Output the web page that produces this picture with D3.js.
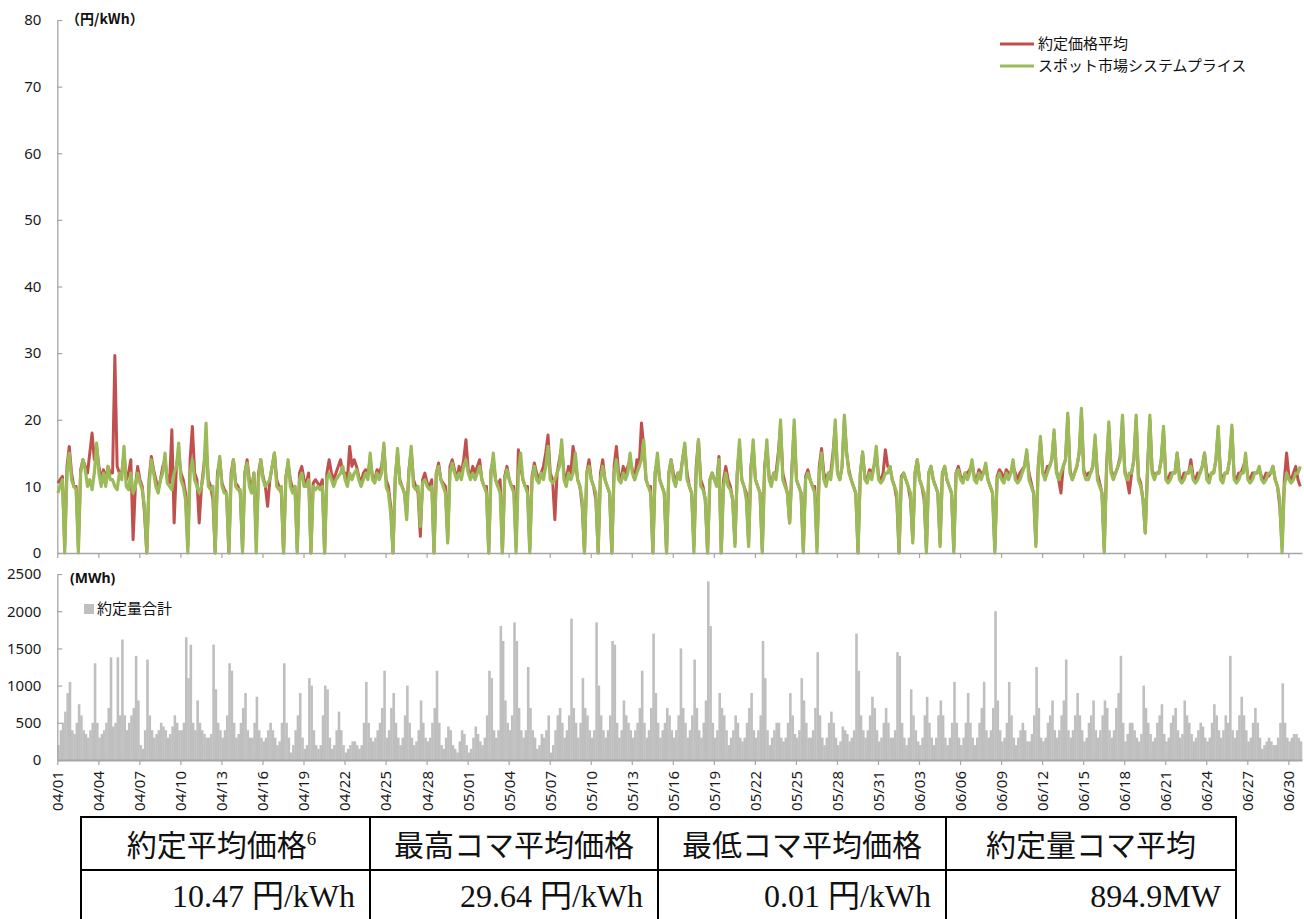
<!DOCTYPE html>
<html>
<head>
<meta charset="utf-8">
<script src="https://cdn.jsdelivr.net/npm/d3@7"></script>
<style>
  html, body { margin: 0; padding: 0; background: #fff; }
  svg { display: block; }
  .tick text { font-family: "Noto Sans", "Open Sans", sans-serif; }
</style>
</head>
<body>
<svg id="chart" width="1304" height="919"></svg>
<script>
// ---- DATA (6 values per day: 0h,4h,8h,12h,16h,20h) ----
const tickLabels = ["04/01","04/04","04/07","04/10","04/13","04/16","04/19","04/22","04/25","04/28",
  "05/01","05/04","05/07","05/10","05/13","05/16","05/19","05/22","05/25","05/28",
  "05/31","06/03","06/06","06/09","06/12","06/15","06/18","06/21","06/24","06/27","06/30"];
const dayCount = 91;
const perDay = 6;
const priceTicks = [0,10,20,30,40,50,60,70,80];
const volumeTicks = [0,500,1000,1500,2000,2500];
const seriesNames = ["約定価格平均", "スポット市場システムプライス"];
const volumeName = "約定量合計";

// スポット市場システムプライス (円/kWh)
const spotPrice = [
  9,10,11,0,12,15,   11,10,9.5,0,12,14,   12.5,10,11,9.5,12,16.5,   12,10,12,10,13,11,
  11,10,9.5,12,11,16,   10,9.5,12,9,10,12,   10.5,9.5,7,0,10,14,   12,10,9,11,12,15,
  10.5,10,9.5,12,13,16.5,   11,10,8,0,12,14,   11,10,9,10,12,19.5,   10,9.5,10,0,11,14.5,
  10,9,9,0,11,14,   10,9.5,9.5,0,12,13.5,   10,9,12,0,11,14,   11,10,10.5,11,13,15,
  10,9.5,10,0,11,14,   10,9,10,0,11,12,   10,10,11,0,10,9.5,   10,9.5,10,0,11,12,
  11,10,11,11.5,12,13,   11,10,12,11,12,12.5,   11,10,11,12,11,15,   11,10.5,12,11,12,16.5,
  10,9,6,0,11,15.7,   10.5,10,9,5,12,16,   10,9.5,10,4,10.5,11,   10,9.5,10,0,12,13,
  11,10,9,1.5,12,13.5,   12,11,12,11,13,14,   12,11,12,11,12,13,   11,10,9,0,12,15,
  11,10,9,0,11,12.5,   11,10,9,0,12,15,   11,10,9,0,11,13,   11,10.5,12,11,13,16,
  11,10.5,11,12,13,17,   11,10,12,11,12,15,   11,10,8,0,12,13,   11,10,9,0,11,13,
  11,10,9,0,12,14,   11,10.5,12,11,12,15,   12,11,12,13,14,17,   11,10,9,0,12,15,
  11,10,9,0,12,14,   11,10,12,11,14,16.5,   11,10,9,0,12,17,   10,9.5,8,0,11,12,
  11,10,14,0,10,12,   10,9.5,8,1,12,17,   11,10,8,1,12,17,   11,10,9,0,12,17,
  11,10,12,11,14,20,   11,10,9,4.5,12,20,   11,10,9,0,11,12,   11,10,9,0,12,15,
  11,10,12,11,14,20,   12,11,13,20.7,15,12,   11,10,9,0,12,15.2,   11,10.5,12,11,13,16,
  11,10.5,11,12,12,13,   11,10,9,0,11,12,   11,10,9,1.5,12,14,   11,10,9,0,12,13,
  11,10,9,1,12,13,   11,10,9,0,12,12.5,   11,10.5,12,11,12,14,   11,10.5,12,11,12,13.5,
  11,10,9,0,11,12,   11,10.5,12,11,12,14,   11,10.5,11,12,13,15.5,   11,10,9,1,12,17.5,
  12,11,12,13,14,18.5,   12,11,12,13,14,21,   12,11,12,13,15,21.7,   12,11,11,12,13,17.7,
  11,10,9,0,12,19.7,   12,11,12,13,14,20.7,   12,11,12,12,14,20.7,   11,10,8,3,12,20.7,
  12,11,12,12,14,19,   11,10.5,11,12,12,15,   11,10.5,11,12,12,13,   11,10.5,11,12,13,15,
  11,10.5,12,12,14,19,   11,10.5,12,12,14,19.2,   11,10.5,11,12,12,15,   11,10.5,11,12,12,13,
  11,10.5,11,12,12,13,   11,10,8,0,10,12,   11,10.5,11,12,12,13
];

// 約定価格平均 (円/kWh)
const contractPrice = [
  10.5,11,11.5,1,13,16,   12,10,10,1,12.5,14,   13,12,15,18,14,16,   13,11,12.5,11,13,12,
  12,29.64,13,12,12,15,   11,12,14,2,10,13,   11,10,6,0,11,14.5,   12.5,11,9.5,11,13,14,
  11,10.5,18.5,4.5,13,15,   12,11,9,1,14,19,   12,11,4.5,10,13,16,   11,10,8,0,12,14,
  10.5,9.5,9,0,12,14,   10.5,10,9,0.5,12,14,   11,9.5,12,2,12,14,   11.5,10,7,11,13,15,
  11,10,9,0,11.5,13.5,   11,9.5,10,0.5,12,13,   11,10.5,12,0,10.5,11,   10.5,10,11,0,12,14,
  12,11,12,13,14,12,   12,11,16,13,14,13,   11.5,10.5,12,12.5,12,14,   11.5,11,12.5,12,13,16,
  11,10,7,0,11.5,15,   11,10,9,6,12.5,15.5,   11,10,9,2.5,11,12,   10.5,10,11,0,12,13.5,
  11,10.5,10,2,13,14,   12.5,11,13,12,14,17,   12.5,11.5,13,12,13,14,   11,10,10,0,12.5,14,
  11,10,11,0,11.5,13,   11,10,10,1,15.5,13,   11,10,10,0.5,11.5,13.5,   12,11,12,13,15,17.7,
  12,11,5,12,14,16,   12,11,13,12,16,14,   11,10,7,0,12,14,   11,10,8,0,12,14,
  11,10,9,0,13,16,   12,11,13,12,13,14,   12.5,11,14,13,19.5,16,   11,10,10,0,12,14,
  11,10,9,0,12,14,   12,10.5,12,11.5,14,16,   12,10,9,1,13,17,   11,10,8,0,11,12,
  11,10.5,14.5,0,11,13,   11,10,8,1.5,12,16,   11,10,9,1.5,13,16,   11,10,9,0.5,13,16,
  11.5,10.5,12,12,15,19,   12,10.5,9,4.5,13,19,   11,10,9,0.5,11.5,12.5,   11,10,10,1,13,15.7,
  12,11,12,12,15,19,   12,11,13,20,15,12.5,   11,10,9,0,12,15,   11.5,11,12.5,12,13,15,
  11.5,11,12,15.5,13,13,   11,10,8,0,11.5,12,   11,10,8,2,12,14,   11,10,8,0.5,12,13,
  11,10,9,1.5,12,13,   11,10,9,0.5,12,13,   11.5,11,12,12,12.5,13.5,   11.5,11,12.5,12,12,13,
  11,10,9,0.5,11.5,12.5,   12,11,12.5,12,12,13,   12,11,12,12.5,13,15,   12,10.5,9,1.5,13,17,
  12.5,11,13,13,14,18,   12.5,11,9,13,14,20.5,   12.5,11,12,13,15,21,   12.5,11.5,12,12,13,17,
  12,10.5,9,0.5,13,19,   12.5,11.5,12,13,14.5,20,   12.5,11,9,12,14,20,   11.5,10.5,8,3,13,20,
  12.5,11.5,12,12,14,18.5,   11.5,11,12,12,12,15,   11.5,11,12,12,12,14,   11.5,11,12,12,13,15,
  12,11,12,12,14,18.5,   12,11,12,12,14,18.5,   11.5,11,12,12,13,14,   11.5,11,12,12,12,12.5,
  11.5,11,12,11.5,12,13,   11,10,7,1,11,15,   11.5,11,12,13,11,10
];

// 約定量合計 (MWh)
const volume = [
  200,400,500,650,900,1050,   400,350,500,750,600,400,   350,300,400,500,1300,500,   300,350,400,500,700,1380,
  450,500,1380,600,1620,600,   400,500,600,700,1400,800,   200,150,400,1350,600,400,   300,350,400,500,450,400,
  300,350,450,600,500,400,   400,500,1650,1100,1550,500,   400,800,500,400,350,300,   300,350,1550,950,500,400,
  300,400,600,1300,1200,500,   300,350,500,700,900,400,   300,300,500,850,400,300,   250,300,400,500,400,300,
  200,250,500,1300,500,300,   100,200,400,600,900,300,   150,200,1100,1000,400,200,   150,200,600,1000,950,300,
  150,200,400,650,400,200,   100,150,200,250,250,200,   150,200,500,1050,500,300,   250,300,400,500,700,1200,
  300,400,700,900,500,300,   200,300,600,1000,500,300,   200,250,400,800,500,300,   250,300,500,700,1200,500,
  200,150,300,450,400,200,   150,100,250,400,350,200,   100,150,300,450,350,250,   200,300,600,1200,1100,400,
  300,400,1800,1600,800,500,   400,600,1850,1600,700,400,   300,400,1250,700,400,300,   150,200,350,300,400,600,
  100,200,400,600,700,500,   300,400,600,1900,700,500,   300,500,1100,700,600,400,   300,400,1850,1000,600,400,
  300,400,600,1600,1550,500,   300,400,800,600,500,400,   300,400,500,700,1200,500,   300,400,700,1700,900,500,
  300,400,500,700,600,400,   300,400,600,1500,700,500,   300,400,600,1350,700,400,   300,500,800,2400,1800,500,
  300,400,900,700,600,400,   200,300,400,600,500,300,   250,300,500,700,900,400,   300,400,600,1600,1100,400,
  200,300,400,500,500,300,   250,300,500,900,600,350,   300,400,1100,800,500,300,   300,400,700,1450,600,300,
  200,300,500,650,500,300,   200,250,450,400,350,250,   300,400,1700,1200,600,400,   300,400,600,850,700,400,
  250,300,500,700,500,300,   300,400,1450,1400,500,300,   200,300,950,600,400,250,   200,300,600,850,500,300,
  200,300,600,800,600,300,   200,300,500,1050,500,300,   200,300,500,900,500,300,   200,300,500,700,1050,400,
  300,400,700,2000,800,400,   250,300,500,1050,600,300,   200,300,400,500,400,250,   250,350,600,1250,700,300,
  250,300,500,600,800,400,   300,400,600,800,1350,400,   300,400,600,900,600,400,   250,300,500,600,800,400,
  300,400,600,800,700,400,   300,400,700,900,1400,500,   250,350,500,500,400,300,   250,350,1000,700,500,350,
  250,300,500,600,750,350,   250,300,500,600,700,400,   300,350,800,600,500,350,   250,300,400,500,450,300,
  250,300,500,750,600,400,   300,400,600,500,1400,400,   300,400,600,850,600,400,   250,300,500,700,500,300,
  150,200,250,300,250,200,   200,300,500,1030,500,300,   250,300,350,350,300,250
];

// summary table
const tableHeaders = ["約定平均価格", "最高コマ平均価格", "最低コマ平均価格", "約定量コマ平均"];
const tableValues = ["10.47 円/kWh", "29.64 円/kWh", "0.01 円/kWh", "894.9MW"];

// ---- DRAW ----
const svg = d3.select("#chart");
const N = dayCount * perDay;
const x = d3.scaleLinear().domain([0, N]).range([57.3, 1302]);
const yP = d3.scaleLinear().domain([0, 80]).range([553, 20]);
const yV = d3.scaleLinear().domain([0, 2500]).range([760, 574]);
const axisColor = "#A6A6A6";
const tickIdx = tickLabels.map((d, i) => i * 3 * perDay);

function styleAxis(g) {
  g.selectAll("path.domain").attr("stroke", axisColor).attr("stroke-width", 1.3);
  g.selectAll(".tick line").attr("stroke", axisColor).attr("stroke-width", 1.2);
  g.selectAll(".tick text").attr("fill", "#1a1a1a").style("font-size", "15px");
}

// top panel axes
const gyP = svg.append("g").attr("transform", "translate(57.3,0)")
  .call(d3.axisLeft(yP).tickValues(priceTicks).tickFormat(d3.format("d"))
    .tickSizeInner(-5).tickSizeOuter(0).tickPadding(16));
styleAxis(gyP);

// price lines
const line = d3.line().x((d, i) => x(i + 0.25)).y(d => yP(d));
svg.append("path").datum(contractPrice).attr("d", line)
  .attr("fill", "none").attr("stroke", "#C0504D").attr("stroke-width", 3).attr("stroke-linejoin", "round");
svg.append("path").datum(spotPrice).attr("d", line)
  .attr("fill", "none").attr("stroke", "#9BBB59").attr("stroke-width", 3.2).attr("stroke-linejoin", "round");

const gxP = svg.append("g").attr("transform", "translate(0,553)")
  .call(d3.axisBottom(x).tickValues(tickIdx).tickFormat("").tickSizeInner(5).tickSizeOuter(0));
styleAxis(gxP);

svg.append("text").attr("x", 66).attr("y", 24)
  .style("font-family", "'Noto Sans CJK JP', sans-serif").style("font-weight", "bold").style("font-size", "14px")
  .attr("fill", "#111").text("（円/kWh）");

// legend
const legendItems = [
  { name: seriesNames[0], color: "#C0504D", y: 44 },
  { name: seriesNames[1], color: "#9BBB59", y: 66 }
];
legendItems.forEach(it => {
  svg.append("line").attr("x1", 1000).attr("x2", 1034).attr("y1", it.y).attr("y2", it.y)
    .attr("stroke", it.color).attr("stroke-width", 3);
  svg.append("text").attr("x", 1038).attr("y", it.y).attr("dy", "0.36em")
    .style("font-family", "'Noto Sans CJK JP', sans-serif").style("font-size", "15px")
    .attr("fill", "#111").text(it.name);
});

// bottom panel
svg.append("g").selectAll("rect").data(volume).join("rect")
  .attr("x", (d, i) => x(i)).attr("width", (d, i) => x(i + 1) - x(i) + 0.3)
  .attr("y", d => yV(d)).attr("height", d => yV(0) - yV(d))
  .attr("fill", "#BFBFBF");

const gyV = svg.append("g").attr("transform", "translate(57.3,0)")
  .call(d3.axisLeft(yV).tickValues(volumeTicks).tickFormat(d3.format("d"))
    .tickSizeInner(-5).tickSizeOuter(0).tickPadding(16));
styleAxis(gyV);

const gxV = svg.append("g").attr("transform", "translate(0,760)")
  .call(d3.axisBottom(x).tickValues(tickIdx).tickFormat((d, i) => tickLabels[i]).tickSizeInner(5).tickSizeOuter(0));
styleAxis(gxV);
gxV.select("path.domain").attr("stroke-width", 2);
gxV.selectAll(".tick text")
  .attr("transform", "rotate(-90)")
  .attr("x", -11).attr("y", 0).attr("dy", "0.36em")
  .style("text-anchor", "end");

svg.append("text").attr("x", 70).attr("y", 583)
  .style("font-family", "'Noto Sans', sans-serif").style("font-weight", "bold").style("font-size", "14px")
  .attr("fill", "#111").text("(MWh)");
svg.append("rect").attr("x", 84).attr("y", 604).attr("width", 10).attr("height", 10).attr("fill", "#BFBFBF");
svg.append("text").attr("x", 97).attr("y", 609).attr("dy", "0.36em")
  .style("font-family", "'Noto Sans CJK JP', sans-serif").style("font-size", "15px")
  .attr("fill", "#111").text(volumeName);

// table
const colX = [81, 370, 658, 946, 1236];
const rowY = [817, 870, 920];
const tg = svg.append("g");
tg.append("rect").attr("x", colX[0]).attr("y", rowY[0]).attr("width", colX[4] - colX[0]).attr("height", rowY[2] - rowY[0])
  .attr("fill", "none").attr("stroke", "#000").attr("stroke-width", 2);
tg.append("line").attr("x1", colX[0]).attr("x2", colX[4]).attr("y1", rowY[1]).attr("y2", rowY[1])
  .attr("stroke", "#000").attr("stroke-width", 2);
colX.slice(1, 4).forEach(cx => {
  tg.append("line").attr("x1", cx).attr("x2", cx).attr("y1", rowY[0]).attr("y2", rowY[2])
    .attr("stroke", "#000").attr("stroke-width", 2);
});
const tfont = "'Liberation Serif', 'Noto Sans CJK JP', serif";
tableHeaders.forEach((h, i) => {
  const t = tg.append("text").attr("x", (colX[i] + colX[i + 1]) / 2 + (i === 0 ? -4 : 0)).attr("y", 856)
    .style("font-family", tfont).style("font-size", "30px").attr("fill", "#111")
    .attr("text-anchor", "middle");
  t.append("tspan").text(h);
  if (i === 0) t.append("tspan").attr("dy", -11).style("font-size", "19px").text("6");
});
tableValues.forEach((v, i) => {
  tg.append("text").attr("x", colX[i + 1] - 15).attr("y", 907)
    .style("font-family", tfont).style("font-size", "32px").attr("fill", "#111")
    .attr("text-anchor", "end").text(v);
});
</script>
</body>
</html>
